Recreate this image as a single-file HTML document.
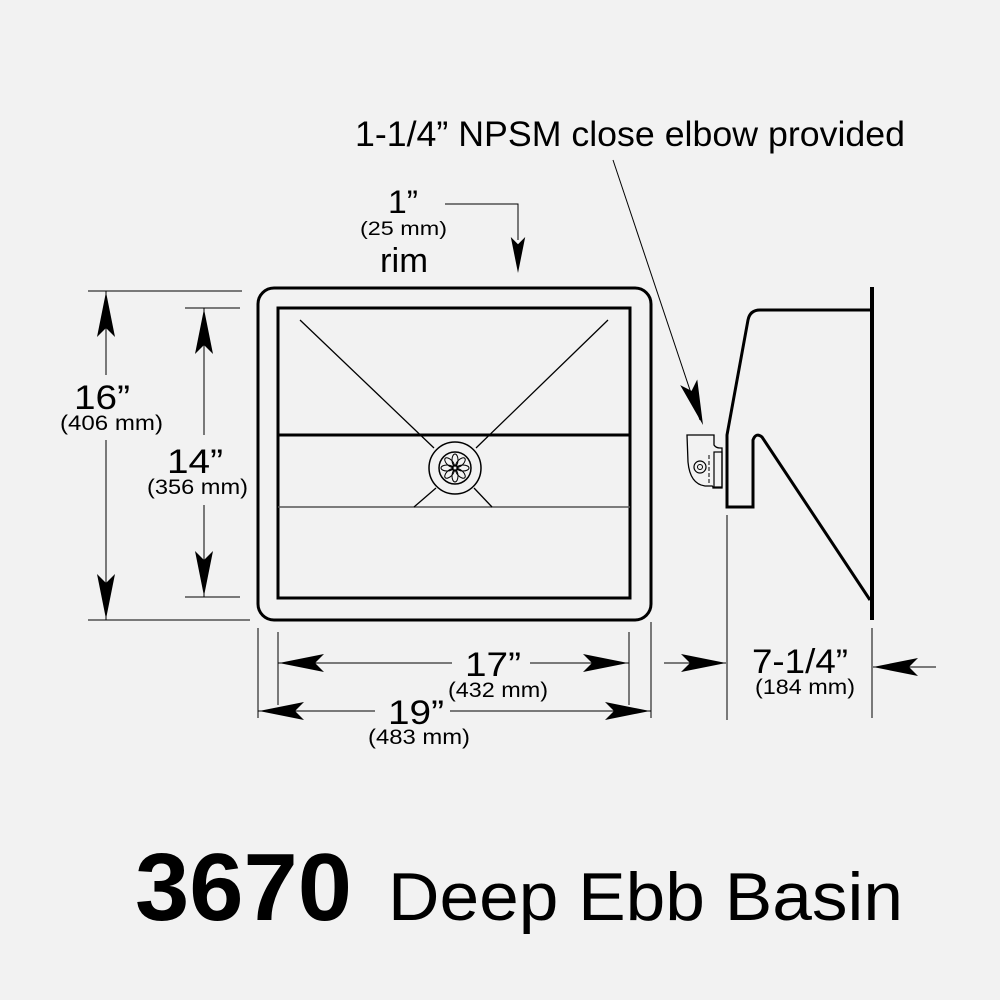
<!DOCTYPE html>
<html><head><style>
html,body{margin:0;padding:0;background:#f2f2f2;}
svg{display:block}
text{font-family:"Liberation Sans",sans-serif;fill:#000}
</style></head><body>
<svg width="1000" height="1000" viewBox="0 0 1000 1000" xmlns="http://www.w3.org/2000/svg">
<defs>
<polygon id="ah" points="0,0 -45,-9 -36,0 -45,9" fill="#000"/>
</defs>
<rect width="1000" height="1000" fill="#f2f2f2"/>

<!-- basin -->
<rect x="258" y="288" width="393" height="332" rx="16" fill="none" stroke="#000" stroke-width="3"/>
<rect x="278" y="308" width="352" height="290" fill="none" stroke="#000" stroke-width="3"/>
<line x1="278" y1="435" x2="630" y2="435" stroke="#000" stroke-width="3"/>
<line x1="278" y1="507" x2="630" y2="507" stroke="#555" stroke-width="1.5"/>
<line x1="300" y1="320" x2="434" y2="448" stroke="#000" stroke-width="1.3"/>
<line x1="608" y1="320" x2="476" y2="448" stroke="#000" stroke-width="1.3"/>
<line x1="436" y1="488" x2="414" y2="507" stroke="#000" stroke-width="1.3"/>
<line x1="474" y1="488" x2="492" y2="507" stroke="#000" stroke-width="1.3"/>
<circle cx="455" cy="468" r="26" fill="#f2f2f2" stroke="#000" stroke-width="1.5"/>
<circle cx="455" cy="468" r="16" fill="none" stroke="#000" stroke-width="1.5"/>
<g stroke="#000" stroke-width="1" fill="none">
<circle cx="455" cy="468" r="3"/>
<ellipse cx="455" cy="460" rx="3" ry="6"/>
<ellipse cx="455" cy="476" rx="3" ry="6"/>
<ellipse cx="447" cy="468" rx="6" ry="3"/>
<ellipse cx="463" cy="468" rx="6" ry="3"/>
<ellipse cx="449.5" cy="462.5" rx="3" ry="6" transform="rotate(-45 449.5 462.5)"/>
<ellipse cx="460.5" cy="473.5" rx="3" ry="6" transform="rotate(-45 460.5 473.5)"/>
<ellipse cx="460.5" cy="462.5" rx="3" ry="6" transform="rotate(45 460.5 462.5)"/>
<ellipse cx="449.5" cy="473.5" rx="3" ry="6" transform="rotate(45 449.5 473.5)"/>
</g>

<!-- side view -->
<line x1="872" y1="287" x2="872" y2="620" stroke="#000" stroke-width="4"/>
<path d="M872,310 L760,310 Q750,310 748,320 L727,435 L727,507 L753,507 L753,440 Q756,432 762,437 L870,600" fill="none" stroke="#000" stroke-width="3"/>
<line x1="727" y1="515" x2="727" y2="720" stroke="#000" stroke-width="1"/>
<!-- elbow -->
<path d="M687,435 L714,435 L714,445 Q716,448 720,448 L722,448 L722,488 L713,488 Q713,486 712,486 L705,486 Q690,484 688,462 Z" fill="#f2f2f2" stroke="#000" stroke-width="1.3"/>
<rect x="714" y="452" width="8" height="35" fill="none" stroke="#000" stroke-width="1.2"/>
<line x1="709" y1="455" x2="709" y2="485" stroke="#000" stroke-width="1" stroke-dasharray="4,2"/>
<circle cx="700" cy="467" r="6" fill="none" stroke="#000" stroke-width="1.2"/>
<circle cx="700" cy="467" r="2.5" fill="none" stroke="#000" stroke-width="1"/>

<!-- callout -->
<line x1="613" y1="160" x2="700" y2="420" stroke="#000" stroke-width="1"/>
<use href="#ah" transform="translate(703,425) rotate(71.5)"/>
<text x="355" y="146" font-size="35" textLength="550" lengthAdjust="spacingAndGlyphs">1-1/4” NPSM close elbow provided</text>

<!-- rim -->
<polyline points="445,204 518,204 518,240" fill="none" stroke="#000" stroke-width="1"/>
<use href="#ah" transform="translate(518,273) rotate(90) scale(0.8,0.8)"/>
<text x="388" y="213" font-size="32" textLength="30" lengthAdjust="spacingAndGlyphs">1”</text>
<text x="360" y="235" font-size="19" textLength="87" lengthAdjust="spacingAndGlyphs">(25 mm)</text>
<text x="380" y="272" font-size="34" textLength="48" lengthAdjust="spacingAndGlyphs">rim</text>

<!-- 16" -->
<line x1="88" y1="291" x2="242" y2="291" stroke="#000" stroke-width="1"/>
<line x1="88" y1="620" x2="250" y2="620" stroke="#000" stroke-width="1"/>
<line x1="106" y1="291" x2="106" y2="375" stroke="#000" stroke-width="1"/>
<line x1="106" y1="440" x2="106" y2="620" stroke="#000" stroke-width="1"/>
<use href="#ah" transform="translate(106,292) rotate(-90)"/>
<use href="#ah" transform="translate(106,619) rotate(90)"/>
<text x="74" y="409" font-size="34" textLength="56" lengthAdjust="spacingAndGlyphs">16”</text>
<text x="60" y="430" font-size="21" textLength="103" lengthAdjust="spacingAndGlyphs">(406 mm)</text>

<!-- 14" -->
<line x1="185" y1="308" x2="240" y2="308" stroke="#000" stroke-width="1"/>
<line x1="185" y1="597" x2="240" y2="597" stroke="#000" stroke-width="1"/>
<line x1="204" y1="308" x2="204" y2="435" stroke="#000" stroke-width="1"/>
<line x1="204" y1="505" x2="204" y2="597" stroke="#000" stroke-width="1"/>
<use href="#ah" transform="translate(204,309) rotate(-90)"/>
<use href="#ah" transform="translate(204,596) rotate(90)"/>
<text x="167" y="473" font-size="34" textLength="56" lengthAdjust="spacingAndGlyphs">14”</text>
<text x="147" y="494" font-size="21" textLength="101" lengthAdjust="spacingAndGlyphs">(356 mm)</text>

<!-- 17" / 19" -->
<line x1="258" y1="628" x2="258" y2="718" stroke="#000" stroke-width="1"/>
<line x1="278" y1="632" x2="278" y2="705" stroke="#000" stroke-width="1"/>
<line x1="629" y1="632" x2="629" y2="705" stroke="#000" stroke-width="1"/>
<line x1="651" y1="622" x2="651" y2="718" stroke="#000" stroke-width="1"/>
<line x1="278" y1="663" x2="452" y2="663" stroke="#000" stroke-width="1"/>
<line x1="530" y1="663" x2="629" y2="663" stroke="#000" stroke-width="1"/>
<use href="#ah" transform="translate(279,663) rotate(180)"/>
<use href="#ah" transform="translate(628,663)"/>
<text x="465" y="676" font-size="34" textLength="56" lengthAdjust="spacingAndGlyphs">17”</text>
<text x="448" y="697" font-size="21" textLength="100" lengthAdjust="spacingAndGlyphs">(432 mm)</text>
<line x1="258" y1="711" x2="375" y2="711" stroke="#000" stroke-width="1"/>
<line x1="450" y1="711" x2="651" y2="711" stroke="#000" stroke-width="1"/>
<use href="#ah" transform="translate(259,711) rotate(180)"/>
<use href="#ah" transform="translate(650,711)"/>
<text x="388" y="724" font-size="34" textLength="56" lengthAdjust="spacingAndGlyphs">19”</text>
<text x="368" y="744" font-size="21" textLength="102" lengthAdjust="spacingAndGlyphs">(483 mm)</text>

<!-- 7-1/4" -->
<line x1="872" y1="628" x2="872" y2="718" stroke="#000" stroke-width="1"/>
<line x1="664" y1="663" x2="726" y2="663" stroke="#000" stroke-width="1"/>
<use href="#ah" transform="translate(726,663)"/>
<line x1="873" y1="667" x2="936" y2="667" stroke="#000" stroke-width="1"/>
<use href="#ah" transform="translate(873,667) rotate(180)"/>
<text x="752" y="673" font-size="34" textLength="96" lengthAdjust="spacingAndGlyphs">7-1/4”</text>
<text x="755" y="694" font-size="21" textLength="100" lengthAdjust="spacingAndGlyphs">(184 mm)</text>

<!-- title -->
<text x="135" y="920" font-size="96" font-weight="bold" textLength="217" lengthAdjust="spacingAndGlyphs">3670</text>
<text x="388" y="920" font-size="68" textLength="515" lengthAdjust="spacingAndGlyphs">Deep Ebb Basin</text>
</svg>
</body></html>
